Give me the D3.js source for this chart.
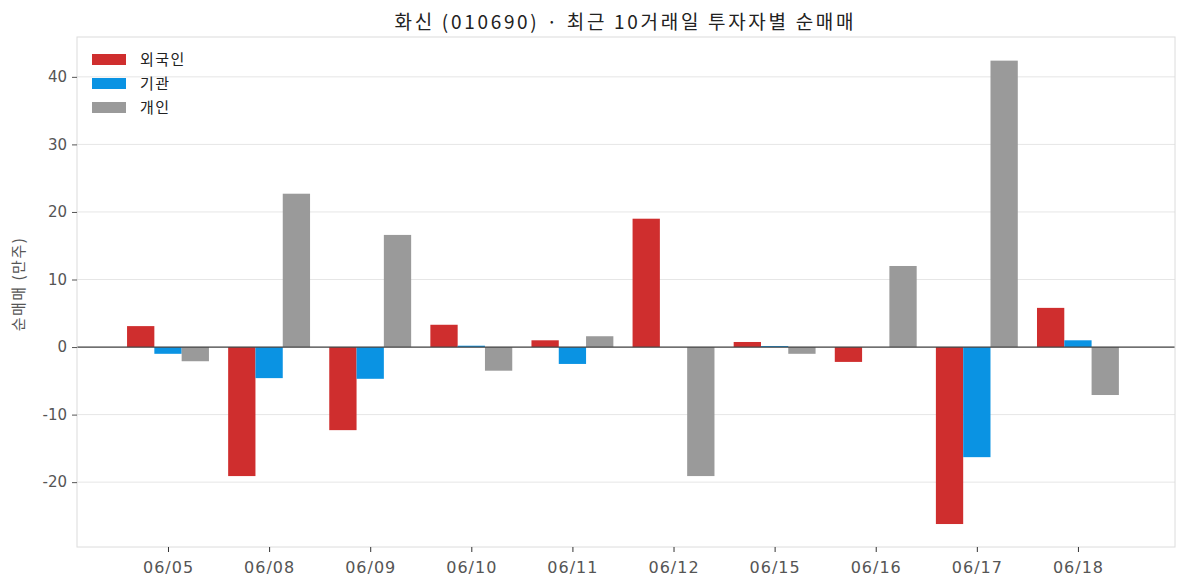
<!DOCTYPE html>
<html>
<head>
<meta charset="utf-8">
<script src="https://cdn.jsdelivr.net/npm/d3@7"></script>
<style>
  body { margin: 0; background: #fff; }
  svg text { font-family: "DejaVu Sans", "Noto Sans CJK KR", sans-serif; }
</style>
</head>
<body>
<div id="chart"></div>
<script>
// data (unit: 만주)
var dates = ["06/05", "06/08", "06/09", "06/10", "06/11", "06/12", "06/15", "06/16", "06/17", "06/18"];
var foreign = [3.1, -19.1, -12.3, 3.3, 1.0, 19.0, 0.75, -2.2, -26.2, 5.8];
var inst = [-1.0, -4.6, -4.7, 0.2, -2.5, 0.0, 0.15, 0.0, -16.3, 1.0];
var retail = [-2.1, 22.7, 16.6, -3.5, 1.6, -19.1, -1.0, 12.0, 42.4, -7.1];
var yTicks = [-20, -10, 0, 10, 20, 30, 40];

var seriesNames = ["외국인", "기관", "개인"];
var colors = ["#cf2e2e", "#0a93e3", "#9a9a9a"];
var series = [foreign, inst, retail];

var w = 1187, h = 587;
// plot area edges (not "top": that name is taken by window.top)
var mLeft = 77, mRight = 1175, mTop = 37, mBottom = 547;

var svg = d3.select("#chart").append("svg")
    .attr("width", w)
    .attr("height", h);

// x is a linear scale over category index, bars sit at i - w, i, i + w
var x = d3.scaleLinear().domain([-0.9, 9.96]).range([mLeft, mRight]);
var y = d3.scaleLinear().domain([-29.6, 45.9]).range([mBottom, mTop]);
var barW = 0.27;

// grid lines
svg.append("g")
    .selectAll("line")
    .data(yTicks)
    .enter()
    .append("line")
    .attr("x1", mLeft).attr("x2", mRight)
    .attr("y1", function(d) { return y(d); })
    .attr("y2", function(d) { return y(d); })
    .attr("stroke", "#e6e6e6")
    .attr("stroke-width", 1);

// bars
series.forEach(function(vals, s) {
    svg.append("g")
        .selectAll("rect")
        .data(vals)
        .enter()
        .append("rect")
        .attr("x", function(d, i) { return x(i + (s - 1.5) * barW); })
        .attr("width", x(barW) - x(0))
        .attr("y", function(d) { return y(Math.max(0, d)); })
        .attr("height", function(d) { return Math.abs(y(d) - y(0)); })
        .attr("fill", colors[s]);
});

// zero line
svg.append("line")
    .attr("x1", mLeft).attr("x2", mRight)
    .attr("y1", y(0)).attr("y2", y(0))
    .attr("stroke", "#444")
    .attr("stroke-width", 1.3);

// frame
svg.append("rect")
    .attr("x", mLeft).attr("y", mTop)
    .attr("width", mRight - mLeft).attr("height", mBottom - mTop)
    .attr("fill", "none")
    .attr("stroke", "#dcdcdc")
    .attr("stroke-width", 1);

// y axis (plain hyphen for negatives, like the original)
var yAxis = svg.append("g")
    .attr("transform", "translate(" + mLeft + ",0)")
    .call(d3.axisLeft(y).tickValues(yTicks).tickSize(5).tickPadding(5)
        .tickFormat(function(d) { return String(d); }));
yAxis.select(".domain").remove();
yAxis.selectAll("line").attr("stroke", "#555");
yAxis.selectAll("text").attr("fill", "#555").style("font-size", "15px");

// x axis
var xAxis = svg.append("g")
    .attr("transform", "translate(0," + mBottom + ")")
    .call(d3.axisBottom(x).tickValues(d3.range(dates.length)).tickSize(5)
        .tickFormat(function(i) { return dates[i]; }));
xAxis.select(".domain").remove();
xAxis.selectAll("line").attr("stroke", "#333");
xAxis.selectAll("text")
    .attr("y", 26).attr("dy", 0)
    .attr("fill", "#555")
    .style("font-size", "16px")
    .style("letter-spacing", "1px");

// y label
svg.append("text")
    .attr("transform", "translate(24," + 284 + ") rotate(-90)")
    .attr("text-anchor", "middle")
    .attr("fill", "#555")
    .style("font-family", "'Noto Sans CJK KR', sans-serif")
    .style("font-size", "15px")
    .style("letter-spacing", "1.5px")
    .text("순매매 (만주)");

// title
svg.append("text")
    .attr("x", 624)
    .attr("y", 29)
    .attr("text-anchor", "middle")
    .attr("fill", "#222")
    .attr("textLength", 459)
    .attr("lengthAdjust", "spacing")
    .style("font-family", "'Noto Sans CJK KR', sans-serif")
    .style("font-size", "19px")
    .text("화신 (010690) · 최근 10거래일 투자자별 순매매");

// legend
var legend = svg.append("g")
    .selectAll("g")
    .data(seriesNames)
    .enter()
    .append("g")
    .attr("transform", function(d, i) { return "translate(92," + (54 + i * 24) + ")"; });
legend.append("rect")
    .attr("width", 34).attr("height", 11)
    .attr("fill", function(d, i) { return colors[i]; });
legend.append("text")
    .attr("x", 48).attr("y", 11)
    .attr("fill", "#222")
    .style("font-family", "'Noto Sans CJK KR', sans-serif")
    .style("font-size", "15px")
    .style("letter-spacing", "1.5px")
    .text(function(d) { return d; });
</script>
</body>
</html>
